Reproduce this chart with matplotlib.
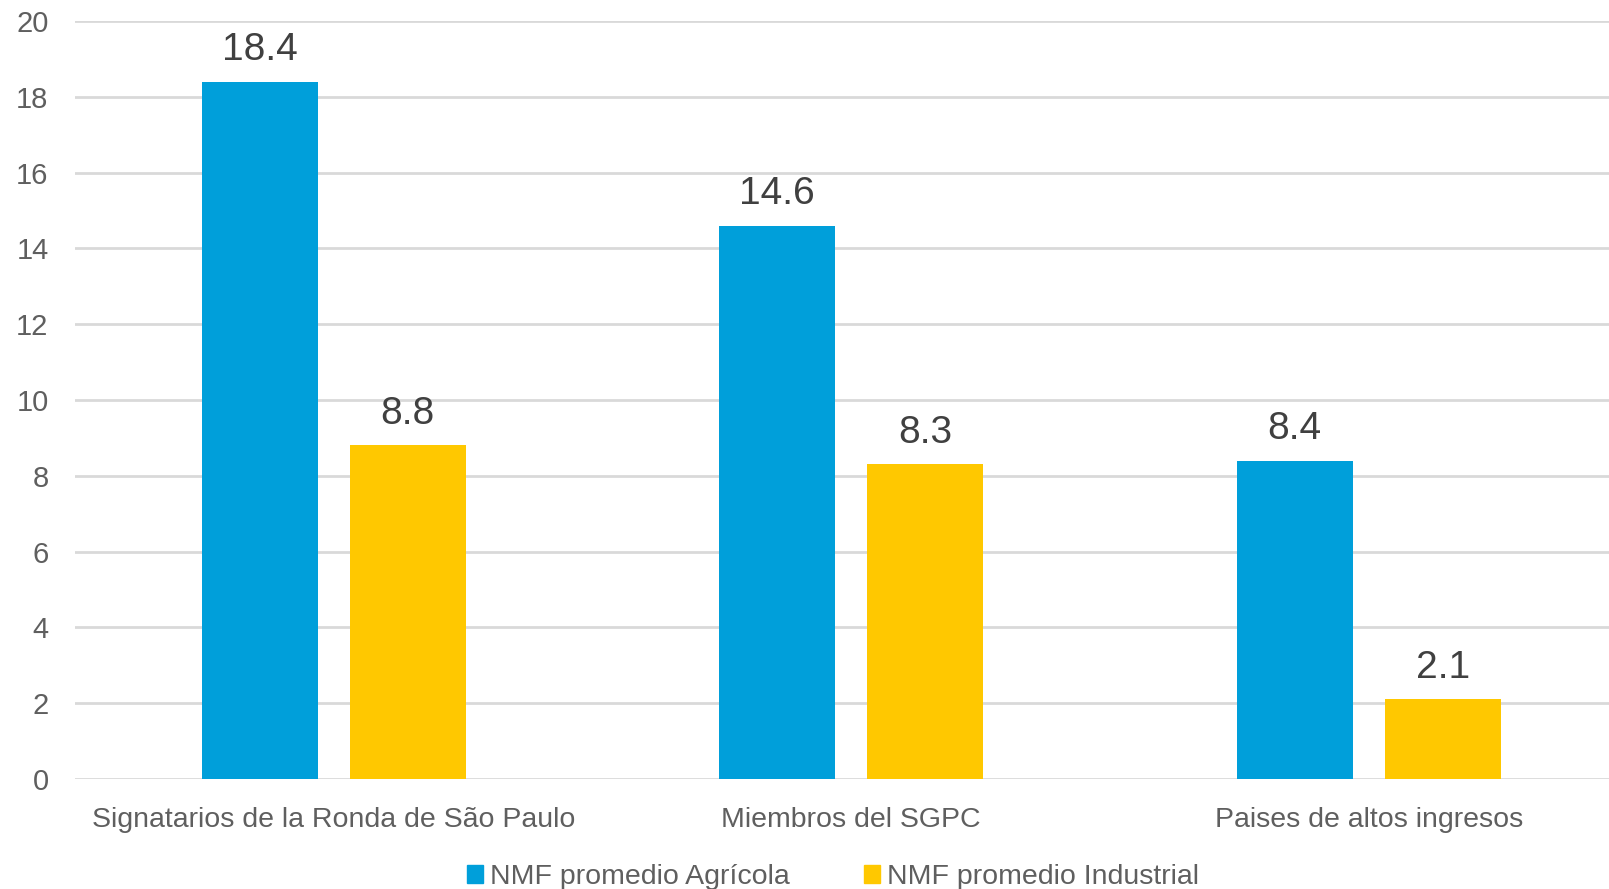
import matplotlib
matplotlib.use("Agg")
import matplotlib.pyplot as plt
from matplotlib.patches import Patch
import numpy as np

categories = ["Signatarios de la Ronda de São Paulo", "Miembros del SGPC", "Paises de altos ingresos"]
agricola = [18.4, 14.6, 8.4]
industrial = [8.8, 8.3, 2.1]
series_names = ["NMF promedio Agrícola", "NMF promedio Industrial"]
yticks = [0, 2, 4, 6, 8, 10, 12, 14, 16, 18, 20]

BLUE = "#009FDA"
YELLOW = "#FFC800"
GRID = "#D9D9D9"
TXT = "#5F5F5F"
VAL = "#404040"

plt.rcParams['font.family'] = ['Liberation Sans', 'DejaVu Sans']

fig = plt.figure(figsize=(16.09, 8.89), dpi=100)
ax = fig.add_axes([75/1609, 110/889, 1 - 75/1609, (779-21)/889])

x = np.arange(len(categories))
w = 0.224
off = 0.143
b1 = ax.bar(x - off, agricola, w, color=BLUE, zorder=3)
b2 = ax.bar(x + off, industrial, w, color=YELLOW, zorder=3)

for bars, vals in ((b1, agricola), (b2, industrial)):
    for r, v in zip(bars, vals):
        ax.text(r.get_x() + r.get_width()/2, v + 0.35, f"{v:.1f}", ha='center', va='bottom',
                fontsize=28, color=VAL)

ax.set_ylim(0, 20)
ax.set_xlim(-0.5, (1609-75)/517.5 - 0.5)
ax.set_yticks(yticks)
ax.set_yticklabels([str(t) for t in yticks])
ax.set_xticks(x)
ax.set_xticklabels(categories)
ax.tick_params(axis='y', length=0, pad=19, labelsize=21, labelcolor=TXT)
ax.tick_params(axis='x', length=0, pad=20, labelsize=20.5, labelcolor=TXT)
ax.grid(axis='y', color=GRID, linewidth=2, zorder=0)
for s in ax.spines.values():
    s.set_visible(False)

handles = [Patch(color=BLUE), Patch(color=YELLOW)]
fig.legend(handles, series_names, loc='center', bbox_to_anchor=(833/1609, 12/889), ncol=2,
           frameon=False, fontsize=20.5, labelcolor=TXT, handlelength=0.55, handleheight=0.55,
           handletextpad=0.25, columnspacing=2.6, borderaxespad=0)

fig.savefig("out.png", dpi=100)
